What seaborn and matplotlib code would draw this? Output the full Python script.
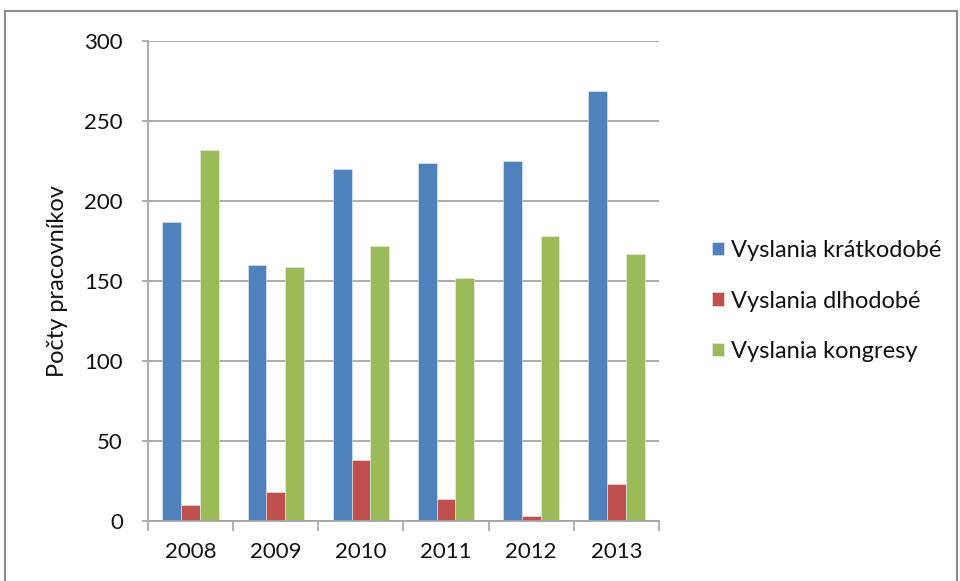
import matplotlib
matplotlib.use("Agg")
import matplotlib.pyplot as plt
from matplotlib.patches import Rectangle
import numpy as np
import pandas as pd
import seaborn as sns

# data
years = ["2008", "2009", "2010", "2011", "2012", "2013"]
series_names = ["Vyslania krátkodobé", "Vyslania dlhodobé", "Vyslania kongresy"]
kratkodobe = [187, 160, 220, 224, 225, 269]
dlhodobe = [10, 18, 38, 14, 3, 23]
kongresy = [232, 159, 172, 152, 178, 167]
colors = ["#4F81BD", "#C0504D", "#9BBB59"]

df = pd.DataFrame({
    "rok": years * 3,
    "seria": np.repeat(series_names, len(years)),
    "pocet": kratkodobe + dlhodobe + kongresy,
})

sns.set_theme(style="white")
plt.rcParams["font.family"] = ["Lato", "DejaVu Sans"]

W, H = 960, 581
fig = plt.figure(figsize=(W / 100, H / 100), dpi=100)
ax = fig.add_axes([148 / W, 1 - 521 / H, 511 / W, 480 / H])

sns.barplot(data=df, x="rok", y="pocet", hue="seria", order=years,
            hue_order=series_names, palette=colors, width=0.66,
            saturation=1, edgecolor="#e8eef6", linewidth=0.4, ax=ax)

grid = "#a6a6a6"
ax.set_ylim(0, 300)
ax.set_xlim(-0.5, len(years) - 0.5)
ax.set_yticks(range(0, 301, 50))
ax.yaxis.grid(True, color=grid, linewidth=1.3)
ax.set_axisbelow(True)
for s in ["top", "right"]:
    ax.spines[s].set_visible(False)
for s in ["left", "bottom"]:
    ax.spines[s].set_color(grid)
    ax.spines[s].set_linewidth(1.3)

ax.tick_params(axis="y", length=4, width=1.2, color=grid, pad=14,
               labelsize=16, labelcolor="#111111", left=True)
ax.tick_params(axis="x", which="major", length=0, pad=15,
               labelsize=16, labelcolor="#111111")
ax.set_xticks(np.arange(-0.5, len(years)), minor=True)
ax.tick_params(axis="x", which="minor", length=7, width=1.2, color=grid,
               bottom=True)

ax.set_xlabel("")
ax.set_ylabel("Počty pracovníkov", fontsize=17, color="#111111", labelpad=12)

handles, labels = ax.get_legend_handles_labels()
ax.legend_.remove()
fig.legend(handles, labels, loc="center left",
           bbox_to_anchor=(700 / W, 1 - 301 / H), frameon=False,
           fontsize=17, handlelength=0.5, handleheight=0.5,
           handletextpad=0.3, labelspacing=1.25, borderpad=0,
           labelcolor="#111111")

# outer chart frame
fig.patches.append(Rectangle((5 / W, -0.05), (W - 8) / W, 1.05 - 11 / H,
                             transform=fig.transFigure, fill=False,
                             edgecolor="#8c8c8c", linewidth=1.5))

fig.savefig("out.png", dpi=100)
